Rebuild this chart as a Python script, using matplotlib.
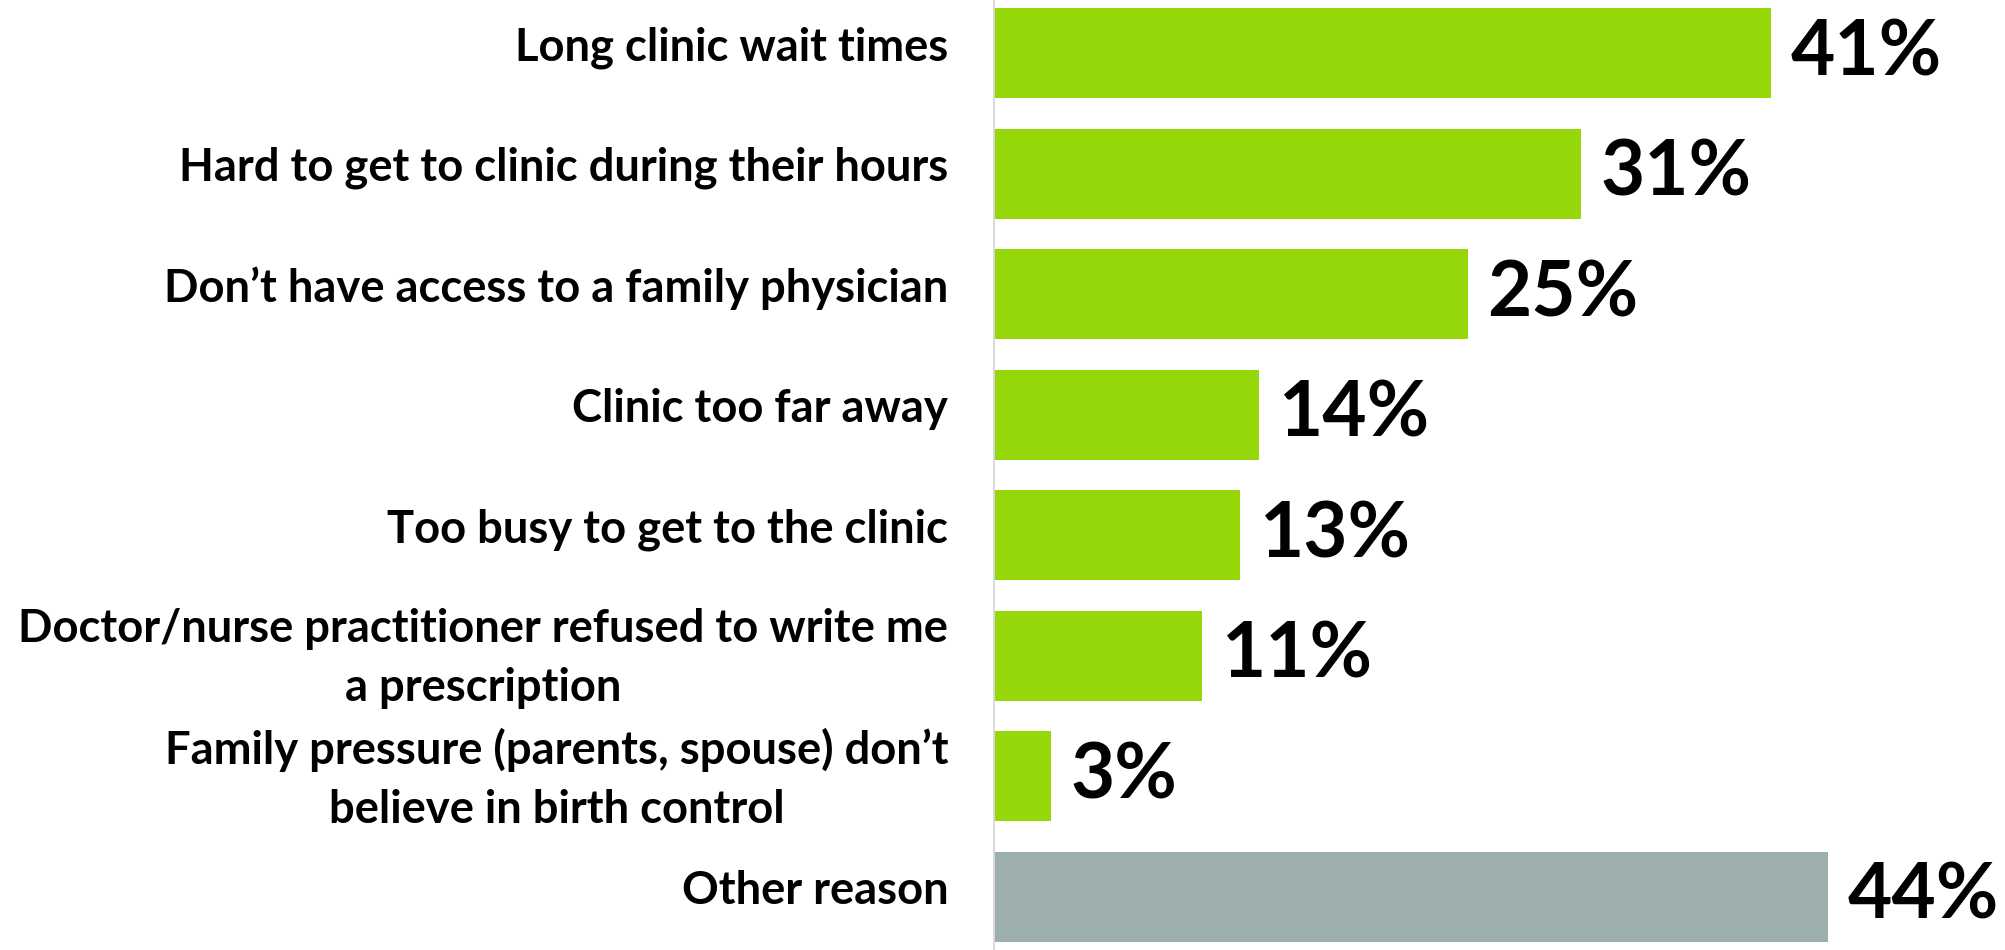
import matplotlib
matplotlib.use("Agg")
import matplotlib.pyplot as plt
import matplotlib.transforms as mtransforms

reasons = [
    "Long clinic wait times",
    "Hard to get to clinic during their hours",
    "Don\u2019t have access to a family physician",
    "Clinic too far away",
    "Too busy to get to the clinic",
    "Doctor/nurse practitioner refused to write me\na prescription",
    "Family pressure (parents, spouse) don\u2019t\nbelieve in birth control",
    "Other reason",
]
shares = [41, 31, 25, 14, 13, 11, 3, 44]
colors = ["#96d70a"] * 7 + ["#9cafad"]

fig = plt.figure(figsize=(20.06, 9.5), dpi=100)
ax = fig.add_axes([994 / 2006, 0, 1 - 994 / 2006, 1])

pos = list(range(len(reasons)))
ax.barh(pos, shares, height=0.746, color=colors, edgecolor="none")
ax.set_xlim(0, 53.4)
ax.set_ylim(7.44, -0.44)

for p, v in zip(pos, shares):
    ax.annotate(f"{v}%", xy=(v, p), xytext=(14, 0), textcoords="offset points",
                va="center", ha="left", fontsize=55, fontweight="bold",
                family=["Lato", "DejaVu Sans"], color="black")

ax.set_yticks(pos)
ax.set_yticklabels(reasons, fontsize=32.7, fontweight="bold",
                   family=["Lato", "DejaVu Sans"], linespacing=1.5)
ax.tick_params(axis="y", length=0, pad=33)
ax.set_xticks([])
for s in ["top", "right", "bottom"]:
    ax.spines[s].set_visible(False)
ax.spines["left"].set_color("#d9d9d9")
ax.spines["left"].set_linewidth(1.4)

lift = mtransforms.ScaledTranslation(0, 7 / 72, fig.dpi_scale_trans)
for t in ax.get_yticklabels():
    t.set_multialignment("center")
    t.set_transform(t.get_transform() + lift)

fig.savefig("out.png", dpi=100, facecolor="white")
